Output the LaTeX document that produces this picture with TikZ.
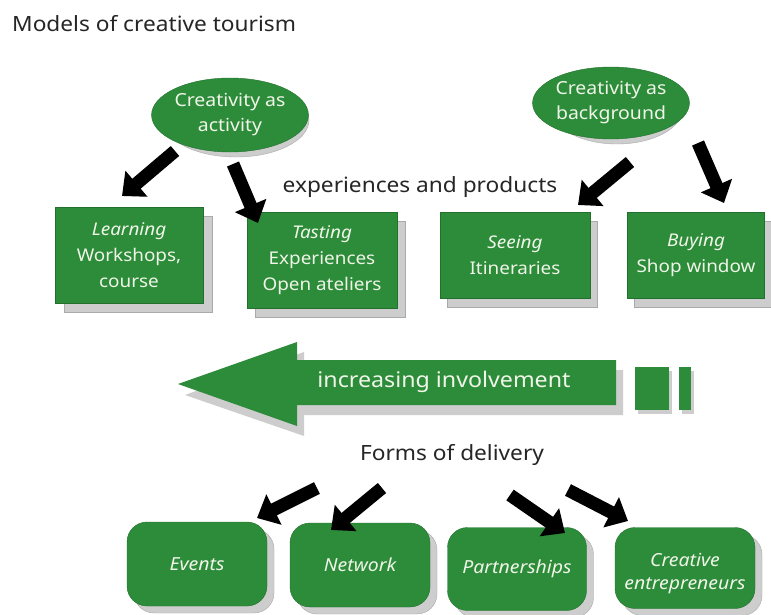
\documentclass[tikz,border=0pt]{standalone}
\usepackage{fontspec}
\setmainfont{Noto Sans}[FakeStretch=1.08]
\usetikzlibrary{shapes.geometric,arrows.meta}
\definecolor{grn}{RGB}{44,140,58}
\definecolor{shd}{RGB}{205,205,205}
\definecolor{shdl}{RGB}{170,170,170}
\definecolor{txw}{RGB}{240,245,232}
\tikzset{
  ell/.style={ellipse,fill=grn,draw=grn!80!black,text=txw,align=center,inner sep=0pt,
    minimum width=146pt,minimum height=74pt,font=\fontsize{18}{25}\selectfont},
  ellshadow/.style={ellipse,fill=shd,draw=shdl,minimum width=146pt,minimum height=74pt,inner sep=0pt},
  sqbox/.style={rectangle,fill=grn,draw=grn!80!black,text=txw,align=center,inner sep=0pt,
    font=\fontsize{17.5}{26}\selectfont},
  sqshadow/.style={rectangle,fill=shd,draw=shdl,inner sep=0pt},
  rbox/.style={rectangle,rounded corners=20pt,fill=grn,draw=grn!80!black,text=txw,align=center,inner sep=0pt,
    font=\fontsize{18}{23}\selectfont\itshape},
  rshadow/.style={rectangle,rounded corners=20pt,fill=shd,draw=shdl,inner sep=0pt},
  blk/.style={line width=13pt,black,-{Triangle[length=19pt,width=33pt]}},
  lbl/.style={text=black!85,inner sep=0pt,font=\fontsize{21}{24}\selectfont},
}
\begin{document}
\begin{tikzpicture}[x=1pt,y=-1pt]
\useasboundingbox (0,0) rectangle (771,614);
\fill[white] (0,0) rectangle (771,614);

% title
\node[lbl,anchor=base west] (title) at (12,31) {Models of creative tourism};

% ellipses
\node[ellshadow] (e1s) at (236,120) {};
\node[ell] (e1) at (230,115) {Creativity as\\activity};
\node[ellshadow,minimum width=132pt,minimum height=72pt] (e2s) at (617,108) {};
\node[ell,minimum width=132pt,minimum height=72pt] (e2) at (611,103) {Creativity as\\background};

% label
\node[lbl,anchor=base] (exp) at (420,192) {experiences and products};

% square boxes
\node[sqshadow,minimum width=148pt,minimum height=96pt] (ls) at (138,264) {};
\node[sqbox,minimum width=148pt,minimum height=96pt] (learn) at (129,255) {\itshape Learning\\Workshops,\\course};
\node[sqshadow,minimum width=150pt,minimum height=96pt] (ts) at (330,269) {};
\node[sqbox,minimum width=150pt,minimum height=96pt] (taste) at (322,260) {\itshape Tasting\\Experiences\\Open ateliers};
\node[sqshadow,minimum width=150pt,minimum height=86pt] (ss) at (522,264) {};
\node[sqbox,minimum width=150pt,minimum height=86pt] (see) at (515,255) {\itshape Seeing\\Itineraries};
\node[sqshadow,minimum width=137pt,minimum height=86pt] (bs) at (703,264) {};
\node[sqbox,minimum width=137pt,minimum height=86pt] (buy) at (696,255) {\itshape Buying\\Shop window};

% top arrows
\coordinate (a1s) at (175,151); \coordinate (a1e) at (122,196);
\coordinate (a2s) at (233,164); \coordinate (a2e) at (258,223);
\coordinate (a3s) at (630,162); \coordinate (a3e) at (578,205);
\coordinate (a4s) at (698,143); \coordinate (a4e) at (724,203);
\draw[blk] (a1s) -- (a1e);
\draw[blk] (a2s) -- (a2e);
\draw[blk] (a3s) -- (a3e);
\draw[blk] (a4s) -- (a4e);

% big arrow
\fill[shd] (185,395) -- (304,352) -- (304,370) -- (623,370) -- (623,415) -- (304,415) -- (304,436) -- cycle;
\fill[grn] (178,384) -- (297,342) -- (297,360) -- (616,360) -- (616,405) -- (297,405) -- (297,426) -- cycle;
\node[text=txw,inner sep=0pt,font=\fontsize{21.5}{24}\selectfont] (inv) at (444,382) {increasing involvement};
\fill[shd] (638,371) rectangle (672,414);
\fill[grn] (635,367) rectangle (669,410);
\fill[shd] (682,371) rectangle (694,414);
\fill[grn] (679,367) rectangle (691,410);

% forms of delivery
\node[lbl,anchor=base] (forms) at (452,460) {Forms of delivery};

% rounded boxes
\node[rshadow,minimum width=140pt,minimum height=84pt] (evs) at (204,571) {};
\node[rbox,minimum width=140pt,minimum height=84pt] (events) at (197,564) {Events};
\node[rshadow,minimum width=140pt,minimum height=84pt] (nws) at (367,572) {};
\node[rbox,minimum width=140pt,minimum height=84pt] (network) at (360,565) {Network};
\node[rshadow,minimum width=139pt,minimum height=83pt] (pas) at (524,576) {};
\node[rbox,minimum width=139pt,minimum height=83pt] (partner) at (517,569) {Partnerships};
\node[rshadow,minimum width=140pt,minimum height=81pt] (crs) at (692,575) {};
\node[rbox,minimum width=140pt,minimum height=81pt,text height=48pt] (creative) at (685,568) {Creative\\entrepreneurs};

% bottom arrows
\coordinate (b1s) at (317,488); \coordinate (b1e) at (257,518);
\coordinate (b2s) at (382,488); \coordinate (b2e) at (331,530);
\coordinate (b3s) at (510,495); \coordinate (b3e) at (565,533);
\coordinate (b4s) at (568,490); \coordinate (b4e) at (628,521);
\draw[blk] (b1s) -- (b1e);
\draw[blk] (b2s) -- (b2e);
\draw[blk] (b3s) -- (b3e);
\draw[blk] (b4s) -- (b4e);
\end{tikzpicture}
\end{document}
